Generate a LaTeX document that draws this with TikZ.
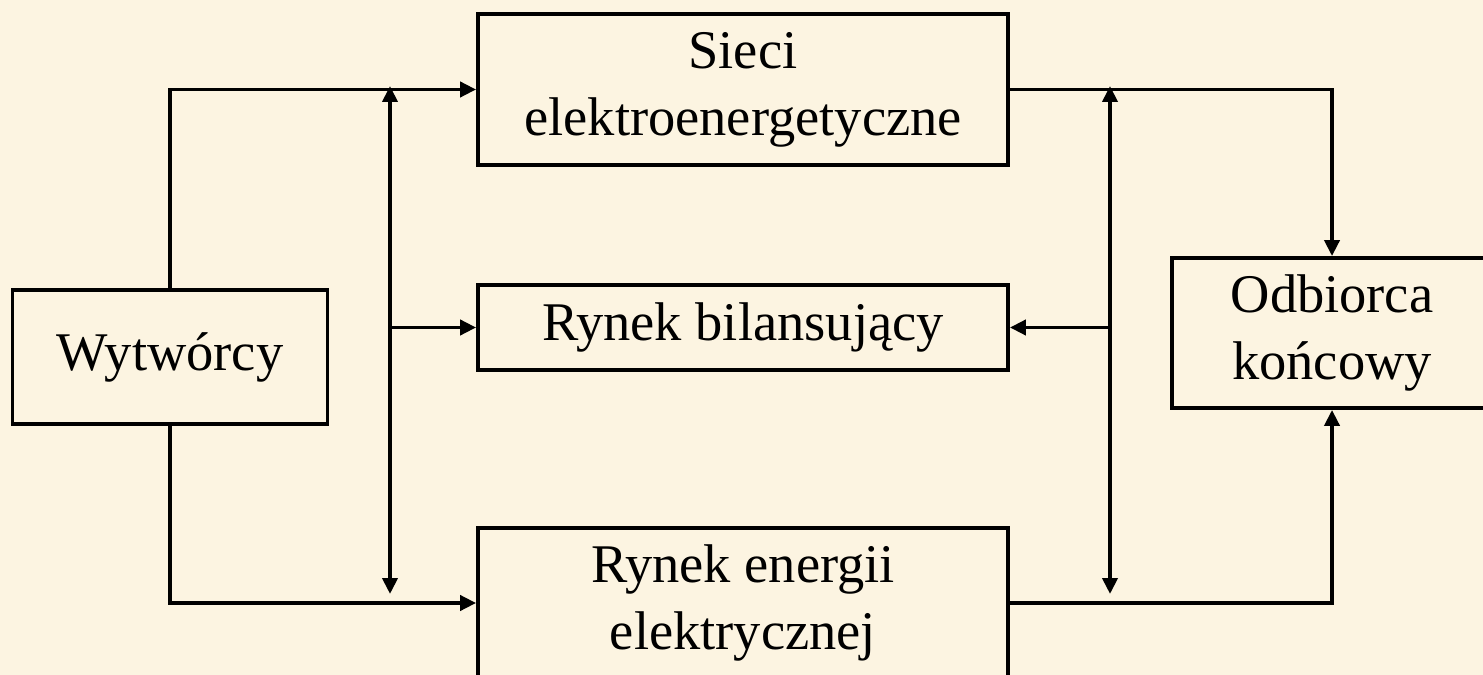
\documentclass[tikz,border=0pt]{standalone}
\usepackage{fontspec}
\setmainfont{Liberation Serif}
\usepackage{xcolor}
\usepackage{tikz}
\usetikzlibrary{arrows.meta}
\definecolor{ctlo}{HTML}{FCF4E1}

\tikzset{
	blok/.style={draw, line width=2.2pt, align=center, inner sep=0pt,
		font=\fontsize{31}{38}\selectfont},
	linia/.style={line width=2.2pt},
	strz/.style={linia, -{Triangle[length=0.32cm, width=0.3cm]}},
	dwustrz/.style={linia, {Triangle[length=0.32cm, width=0.3cm]}-{Triangle[length=0.32cm, width=0.3cm]}},
}

\begin{document}
\begin{tikzpicture}[x=0.02cm, y=-0.02cm]
			\fill[ctlo] (0,0) rectangle (1483,675);
			\useasboundingbox (0,0) rectangle (1483,675);

			\node[blok, minimum width=6.3cm, minimum height=2.68cm] (wyt) at (170,357) {Wytwórcy};
			\node[blok, minimum width=10.6cm, minimum height=3.02cm] (sieci) at (743,89.5) {Sieci\\elektroenergetyczne};
			\node[blok, minimum width=10.6cm, minimum height=1.7cm] (bilans) at (743,327.5) {Rynek bilansujący};
			\node[blok, minimum width=10.6cm, minimum height=3.0cm] (rynek) at (743,603) {Rynek energii\\elektrycznej};
			\node[blok, minimum width=6.4cm, minimum height=3.0cm] (odb) at (1332,333) {Odbiorca\\końcowy};

			\coordinate (lewyG) at (390,86);
			\coordinate (lewyD) at (390,594);
			\coordinate (lewyS) at (390,327.5);
			\coordinate (prawyG) at (1110,86);
			\coordinate (prawyD) at (1110,594);
			\coordinate (prawyS) at (1110,327.5);

			\draw[strz] (wyt.north) |- (sieci.west);
			\draw[strz] (wyt.south) |- (rynek.west);
			\draw[strz] (sieci.east) -| (odb.north);
			\draw[strz] (rynek.east) -| (odb.south);

			\draw[dwustrz] (lewyG) -- (lewyD);
			\draw[dwustrz] (prawyG) -- (prawyD);
			\draw[strz] (lewyS) -- (bilans.west);
			\draw[strz] (prawyS) -- (bilans.east);
		\end{tikzpicture}
\end{document}
